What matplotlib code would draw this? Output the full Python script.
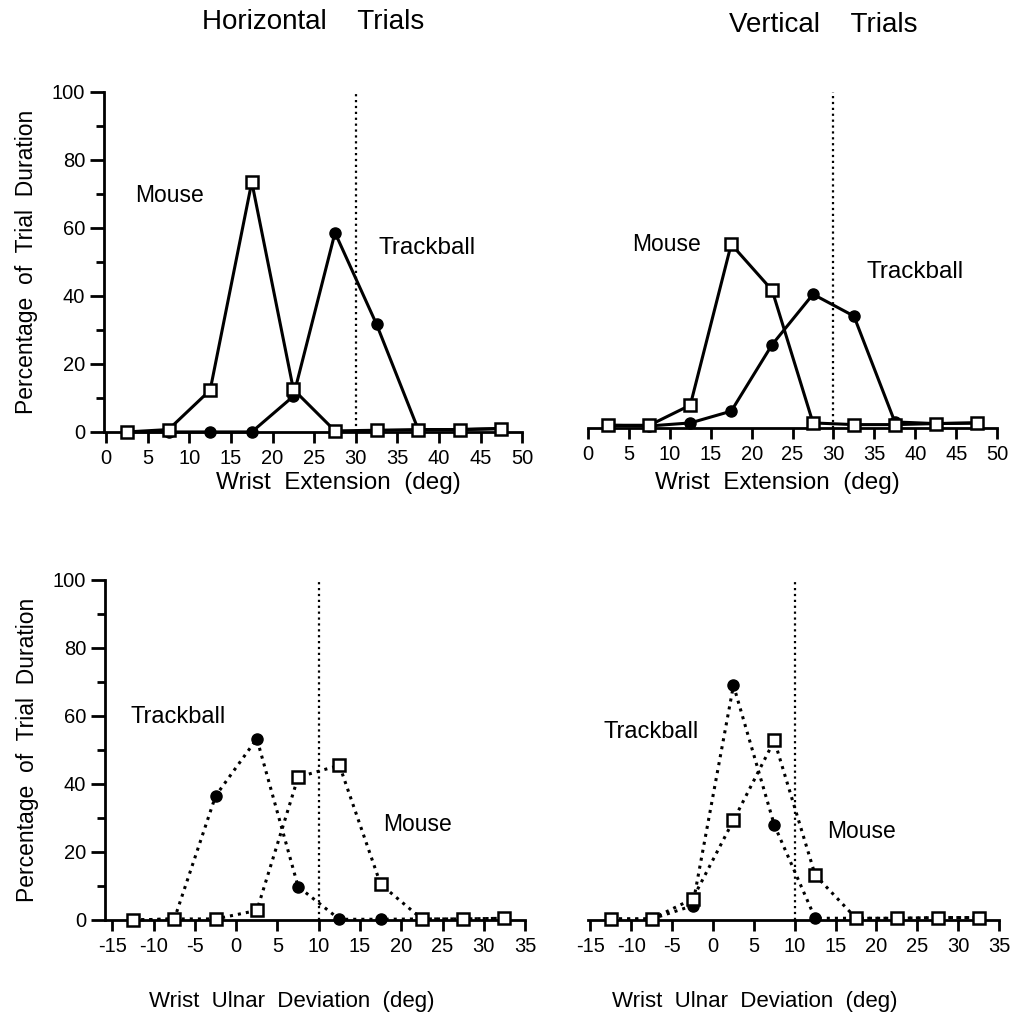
import matplotlib
matplotlib.use("Agg")
import matplotlib.pyplot as plt

plt.rcParams['font.family'] = ['Liberation Sans', 'DejaVu Sans']
plt.rcParams['axes.unicode_minus'] = False

# wrist extension bins (deg)
ext_bins = [2.5, 7.5, 12.5, 17.5, 22.5, 27.5, 32.5, 37.5, 42.5, 47.5]
# wrist ulnar deviation bins (deg)
ulnar_bins = [-12.5, -7.5, -2.5, 2.5, 7.5, 12.5, 17.5, 22.5, 27.5, 32.5]

# horizontal trials - extension
h_ext_mouse = [0.0, 0.7, 12.3, 73.5, 12.5, 0.3, 0.5, 0.7, 0.7, 1.0]
h_ext_track = [0.0, 0.0, 0.0, 0.0, 10.5, 58.6, 31.6, 0.7, 0.7, 1.0]
# vertical trials - extension
v_ext_mouse = [0.8, 0.8, 6.8, 54.7, 41.0, 1.5, 1.0, 1.0, 1.3, 1.5]
v_ext_track = [0.8, 0.6, 1.5, 5.0, 24.8, 39.8, 33.3, 1.8, 1.3, 1.5]
# horizontal trials - ulnar deviation
h_uln_mouse = [0.0, 0.3, 0.3, 2.8, 42.0, 45.5, 10.5, 0.3, 0.3, 0.5]
h_uln_track = [0.0, 0.3, 36.5, 53.3, 9.8, 0.2, 0.2, 0.3, 0.3, 0.5]
# vertical trials - ulnar deviation
v_uln_mouse = [0.3, 0.3, 6.2, 29.3, 52.8, 13.2, 0.5, 0.5, 0.7, 0.7]
v_uln_track = [0.3, 0.3, 4.2, 69.0, 27.9, 0.5, 0.5, 0.5, 0.7, 0.7]

fig = plt.figure(figsize=(10.13, 10.18), dpi=100)

ax1 = fig.add_axes([0.1027, 0.5757, 0.4129, 0.334])
ax2 = fig.add_axes([0.5805, 0.5796, 0.4038, 0.330])
ax3 = fig.add_axes([0.1037, 0.0963, 0.4146, 0.334])
ax4 = fig.add_axes([0.5805, 0.0963, 0.4057, 0.334])

panels = [
    (ax1, ext_bins, h_ext_mouse, h_ext_track, '-', 30, (-0.25, 50), True),
    (ax2, ext_bins, v_ext_mouse, v_ext_track, '-', 30, (0, 50), False),
    (ax3, ulnar_bins, h_uln_mouse, h_uln_track, ':', 10, (-15.9, 35), True),
    (ax4, ulnar_bins, v_uln_mouse, v_uln_track, ':', 10, (-15.3, 35), False),
]

for ax, xs, mouse, track, ls, limit, xlim, show_y in panels:
    ax.plot(xs, track, linestyle=ls, color='black', lw=2.2, marker='o',
            markersize=8, markerfacecolor='black', clip_on=False, zorder=3)
    ax.plot(xs, mouse, linestyle=ls, color='black', lw=2.2, marker='s',
            markersize=8.5, markerfacecolor='white', markeredgewidth=1.8,
            clip_on=False, zorder=4)
    ax.axvline(limit, ymin=0, ymax=1, color='black', linestyle=':', lw=1.6, zorder=2)
    ax.set_xlim(*xlim)
    ax.set_ylim(0, 100)
    ax.spines['top'].set_visible(False)
    ax.spines['right'].set_visible(False)
    ax.spines['bottom'].set_linewidth(2)
    ax.spines['left'].set_linewidth(2)
    lo = 0 if xlim[0] > -1 else -15
    ax.set_xticks(range(lo, int(xlim[1]) + 1, 5))
    ax.tick_params(axis='x', direction='out', length=8, width=2, labelsize=14.5, pad=4)
    if show_y:
        ax.set_yticks(range(0, 101, 20))
        ax.set_yticks(range(10, 100, 20), minor=True)
        ax.tick_params(axis='y', which='major', direction='out', length=10, width=2, labelsize=14.5)
        ax.tick_params(axis='y', which='minor', direction='out', length=6, width=2)
        ax.set_ylabel('Percentage  of  Trial  Duration', fontsize=16.5, labelpad=10)
    else:
        ax.spines['left'].set_visible(False)
        ax.set_yticks([])

ax1.set_xlabel('Wrist  Extension  (deg)', fontsize=17.5, labelpad=8)
ax2.set_xlabel('Wrist  Extension  (deg)', fontsize=17.5, labelpad=8)
ax3.set_xlabel('Wrist  Ulnar  Deviation  (deg)', fontsize=16, labelpad=28)
ax4.set_xlabel('Wrist  Ulnar  Deviation  (deg)', fontsize=16, labelpad=28)
ax1.xaxis.set_label_coords(0.56, -0.118)
ax2.xaxis.set_label_coords(0.462, -0.13)
ax3.xaxis.set_label_coords(0.445, -0.21)
ax4.xaxis.set_label_coords(0.406, -0.21)

ax1.text(3.5, 69.5, 'Mouse', fontsize=16.5, va='center')
ax1.text(32.7, 54, 'Trackball', fontsize=17.5, va='center')
ax2.text(5.4, 54.5, 'Mouse', fontsize=16.5, va='center')
ax2.text(34, 46.5, 'Trackball', fontsize=17.5, va='center')
ax3.text(-12.8, 59.7, 'Trackball', fontsize=17, va='center')
ax3.text(17.8, 28.2, 'Mouse', fontsize=16.5, va='center')
ax4.text(-13.4, 55.3, 'Trackball', fontsize=17, va='center')
ax4.text(14, 25.9, 'Mouse', fontsize=16.5, va='center')

fig.text(0.309, 0.978, 'Horizontal    Trials', fontsize=20, ha='center', va='center')
fig.text(0.813, 0.975, 'Vertical    Trials', fontsize=20, ha='center', va='center')

fig.savefig('out.png', dpi=100)
